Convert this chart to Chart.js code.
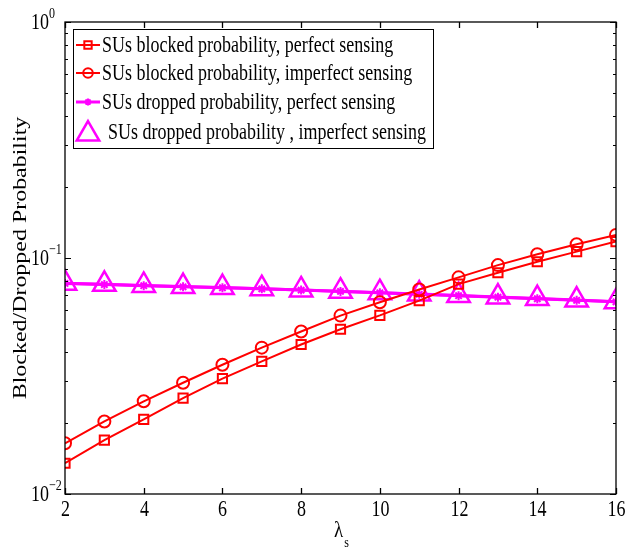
<!DOCTYPE html>
<html>
<head>
<meta charset="utf-8">
<script src="https://cdn.jsdelivr.net/npm/chart.js@4.4.0/dist/chart.umd.min.js"></script>
<style>
  html, body { margin: 0; padding: 0; background: #fff; }
</style>
</head>
<body>
<canvas id="chart" width="638" height="548"></canvas>
<script>
// data
const lambdaS = [2, 3, 4, 5, 6, 7, 8, 9, 10, 11, 12, 13, 14, 15, 16];
const blockedPerfect   = [0.0135, 0.0169, 0.0207, 0.0255, 0.0308, 0.0365, 0.0430, 0.0499, 0.0571, 0.0660, 0.0775, 0.0866, 0.0964, 0.1064, 0.1174];
const blockedImperfect = [0.0164, 0.0203, 0.0247, 0.0296, 0.0353, 0.0417, 0.0488, 0.0570, 0.0649, 0.0735, 0.0828, 0.0933, 0.1037, 0.1143, 0.1253];
const droppedPerfect   = [0.0780, 0.0772, 0.0763, 0.0755, 0.0748, 0.0740, 0.0731, 0.0722, 0.0712, 0.0702, 0.0692, 0.0682, 0.0672, 0.0662, 0.0652];
const droppedImperfect = [0.0782, 0.0774, 0.0765, 0.0757, 0.0749, 0.0741, 0.0732, 0.0723, 0.0713, 0.0703, 0.0693, 0.0683, 0.0673, 0.0663, 0.0653];
const seriesNames = [
    'SUs blocked probability, perfect sensing',
    'SUs blocked probability, imperfect sensing',
    'SUs dropped probability, perfect sensing',
    'SUs dropped probability , imperfect sensing'
];
const xTickValues = [2, 4, 6, 8, 10, 12, 14, 16];
const yDecadeExps = [-2, -1, 0];
const yTickLabels = ['\u22122', '\u22121', '0'];

const RED = '#ff0000';
const MAGENTA = '#ff00ff';
const SERIF = '"Liberation Serif", "Times New Roman", serif';
const K = 1.27; // the original figure's text is stretched vertically

function pts(ys) {
    return lambdaS.map((x, i) => ({x: x, y: ys[i]}));
}

function txt(ctx, s, x, y, size, align, k) {
    ctx.save();
    ctx.translate(x, y);
    ctx.scale(1, k);
    ctx.font = size + 'px ' + SERIF;
    ctx.textAlign = align;
    ctx.textBaseline = 'middle';
    ctx.fillText(s, 0, 0);
    ctx.restore();
}

// MATLAB-like box, inward ticks, labels and legend
const matlabAxes = {
    id: 'matlabAxes',
    afterDraw(chart) {
        const ctx = chart.ctx;
        const a = chart.chartArea;
        const xs = chart.scales.x, ys = chart.scales.y;
        ctx.save();
        ctx.strokeStyle = '#000';
        ctx.lineWidth = 1.3;
        function line(x1, y1, x2, y2) {
            ctx.beginPath(); ctx.moveTo(x1, y1); ctx.lineTo(x2, y2); ctx.stroke();
        }
        ctx.strokeRect(a.left, a.top, a.right - a.left, a.bottom - a.top);

        ctx.fillStyle = '#000';
        xTickValues.forEach(v => {
            const px = Math.round(xs.getPixelForValue(v)) + 0.5;
            line(px, a.bottom, px, a.bottom - 6);
            line(px, a.top, px, a.top + 6);
            txt(ctx, String(v), px, a.bottom + 16, 18, 'center', K);
        });

        ctx.lineWidth = 1;
        yDecadeExps.forEach(e => {
            for (let k = 1; k <= 9; k++) {
                if (e === 0 && k > 1) break;
                const py = Math.round(ys.getPixelForValue(k * Math.pow(10, e))) + 0.5;
                const len = k === 1 ? 6 : 3;
                line(a.left, py, a.left + len, py);
                line(a.right, py, a.right - len, py);
            }
        });

        // y tick labels 10^n
        yDecadeExps.forEach((e, i) => {
            const py = ys.getPixelForValue(Math.pow(10, e));
            txt(ctx, '10', 49, py + 1, 18, 'right', K);
            txt(ctx, yTickLabels[i], 49, py - 8, 12, 'left', K);
        });

        // axis titles
        const cx = (a.left + a.right) / 2;
        txt(ctx, '\u03bb', cx - 2, 531, 19, 'center', K);
        txt(ctx, 's', cx + 6, 543, 12, 'center', K);

        ctx.save();
        ctx.translate(21, (a.top + a.bottom) / 2);
        ctx.rotate(-Math.PI / 2);
        ctx.scale(1.33, 1);
        ctx.font = '18px ' + SERIF;
        ctx.textAlign = 'center';
        ctx.textBaseline = 'middle';
        ctx.fillText('Blocked/Dropped Probability', 0, 0);
        ctx.restore();

        // legend
        const lg = {left: 73, top: 29, right: 433, bottom: 148};
        ctx.fillStyle = '#fff';
        ctx.fillRect(lg.left, lg.top, lg.right - lg.left, lg.bottom - lg.top);
        ctx.strokeStyle = '#000';
        ctx.lineWidth = 1;
        ctx.strokeRect(lg.left + 0.5, lg.top + 0.5, lg.right - lg.left, lg.bottom - lg.top);
        const rows = [45, 73, 102, 132];
        chart.data.datasets.forEach((ds, i) => {
            const ry = rows[i];
            ctx.strokeStyle = ds.borderColor;
            ctx.lineWidth = ds.borderWidth;
            if (i < 3) line(76, ry, 100, ry);
            ctx.fillStyle = 'rgba(0,0,0,0)';
            ctx.lineWidth = ds.pointBorderWidth;
            Chart.helpers.drawPoint(ctx, {
                pointStyle: ds.pointStyle, radius: i < 3 ? ds.pointRadius * 0.8 : ds.pointRadius, rotation: 0,
                borderWidth: ds.pointBorderWidth
            }, 88, i < 3 ? ry : ry + 2);
            ctx.fillStyle = '#000';
            txt(ctx, seriesNames[i], i < 3 ? 102 : 108, ry + 1, 18, 'left', K);
        });
        ctx.restore();
    }
};

new Chart(document.getElementById('chart').getContext('2d'), {
    type: 'line',
    data: {
        datasets: [
            {label: seriesNames[0], data: pts(blockedPerfect), borderColor: RED, borderWidth: 2,
             pointStyle: 'rect', pointRadius: 6.5, pointBorderWidth: 2, pointBorderColor: RED, pointBackgroundColor: 'rgba(0,0,0,0)'},
            {label: seriesNames[1], data: pts(blockedImperfect), borderColor: RED, borderWidth: 2,
             pointStyle: 'circle', pointRadius: 6, pointBorderWidth: 2, pointBorderColor: RED, pointBackgroundColor: 'rgba(0,0,0,0)'},
            {label: seriesNames[2], data: pts(droppedPerfect), borderColor: MAGENTA, borderWidth: 3,
             pointStyle: 'star', pointRadius: 4.5, pointBorderWidth: 2, pointBorderColor: MAGENTA, pointBackgroundColor: MAGENTA},
            {label: seriesNames[3], data: pts(droppedImperfect), borderColor: MAGENTA, borderWidth: 3,
             pointStyle: 'triangle', pointRadius: 13, pointBorderWidth: 2.5, pointBorderColor: MAGENTA, pointBackgroundColor: 'rgba(0,0,0,0)'}
        ]
    },
    options: {
        responsive: false,
        animation: false,
        events: [],
        layout: {padding: {left: 0, top: 22, right: 22, bottom: 0}},
        plugins: {legend: {display: false}, tooltip: {enabled: false}},
        elements: {line: {tension: 0}},
        scales: {
            x: {
                type: 'linear', min: 2, max: 16,
                afterBuildTicks: s => { s.ticks = xTickValues.map(v => ({value: v})); },
                afterFit: s => { s.height = 54; },
                grid: {display: false, drawTicks: false},
                border: {display: false},
                ticks: {display: false}
            },
            y: {
                type: 'logarithmic', min: 0.01, max: 1,
                afterFit: s => { s.width = 65; },
                grid: {display: false, drawTicks: false},
                border: {display: false},
                ticks: {display: false}
            }
        }
    },
    plugins: [matlabAxes]
});
</script>
</body>
</html>
